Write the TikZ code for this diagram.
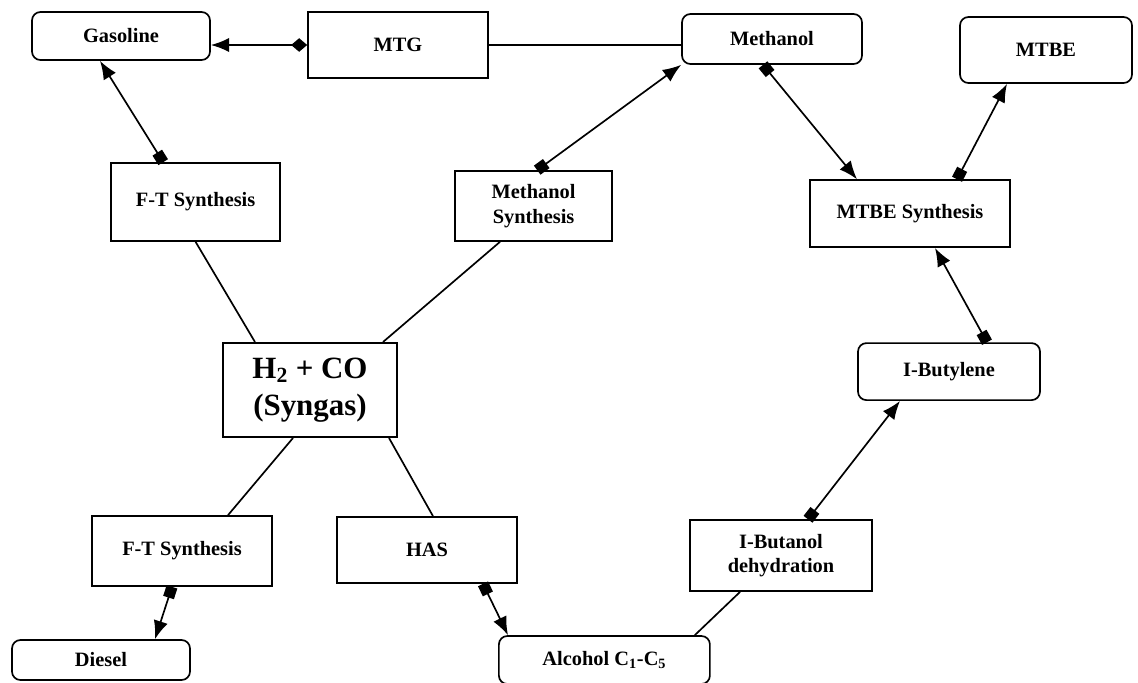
\documentclass[tikz,border=0pt]{standalone}
\usepackage{fontspec}
\setmainfont{Liberation Serif}
\usepackage{tikz}
\usetikzlibrary{arrows.meta, positioning, calc}

\begin{document}
\begin{tikzpicture}[
    >={Latex[length=4.6mm, width=3.6mm]},
    procbox/.style={draw, line width=1.2pt, inner sep=2pt, font=\fontsize{14.5}{17.5}\selectfont\bfseries, align=center},
    prodbox/.style={procbox, rounded corners=6pt},
    link/.style={line width=1.2pt},
    sq/.style={{Square[length=2.8mm, width=2.8mm]}->},
]
    \useasboundingbox (0,0) rectangle (28.45,-17.05);

    % Top row
    \node[prodbox, minimum width=4.45cm, minimum height=1.2cm] (gasoline) at (3.025,-0.9) {Gasoline};
    \node[procbox, minimum width=4.5cm, minimum height=1.65cm] (mtg) at (9.95,-1.125) {MTG};
    \node[prodbox, minimum width=4.5cm, minimum height=1.25cm] (methanol) at (19.3,-0.975) {Methanol};
    \node[prodbox, minimum width=4.3cm, minimum height=1.65cm] (mtbe) at (26.15,-1.25) {MTBE};

    % Second row
    \node[procbox, minimum width=4.225cm, minimum height=1.95cm] (ftup) at (4.89,-5.05) {F-T Synthesis};
    \node[procbox, minimum width=3.925cm, minimum height=1.75cm] (methsyn) at (13.34,-5.15) {Methanol\\Synthesis};
    \node[procbox, minimum width=5cm, minimum height=1.675cm] (mtbesyn) at (22.75,-5.34) {MTBE Synthesis};

    % Syngas
    \node[procbox, line width=1.4pt, minimum width=4.35cm, minimum height=2.35cm, font=\fontsize{22}{26}\selectfont\bfseries] (syngas) at (7.75,-9.75) {H\textsubscript{2} + CO\\(Syngas)};
    \node[prodbox, minimum width=4.55cm, minimum height=1.425cm] (butylene) at (23.725,-9.29) {I-Butylene};

    % Lower rows
    \node[procbox, minimum width=4.5cm, minimum height=1.75cm] (ftdown) at (4.55,-13.775) {F-T Synthesis};
    \node[procbox, minimum width=4.5cm, minimum height=1.65cm] (has) at (10.675,-13.75) {HAS};
    \node[procbox, minimum width=4.55cm, minimum height=1.775cm] (butanol) at (19.525,-13.89) {I-Butanol\\dehydration};
    \node[prodbox, minimum width=4.45cm, minimum height=1.0cm] (diesel) at (2.525,-16.5) {Diesel};
    \node[prodbox, minimum width=5.275cm, minimum height=1.2cm] (alcohol) at (15.11,-16.5) {Alcohol C\textsubscript{1}-C\textsubscript{5}};

    % Syngas routes
    \draw[link] (ftup.south) -- ([xshift=-1.375cm]syngas.north);
    \draw[link] ([xshift=-0.84cm]methsyn.south) -- ([xshift=1.825cm]syngas.north);
    \draw[link] ([xshift=-0.425cm]syngas.south) -- ([xshift=1.15cm]ftdown.north);
    \draw[link] ([xshift=1.975cm]syngas.south) -- ([xshift=0.15cm]has.north);

    % Products
    \draw[link, {Diamond[length=4mm, width=3.4mm]}->] (mtg.west) -- (gasoline.east |- mtg.west);
    \draw[link] (mtg.east) -- (methanol.west |- mtg.east);
    \draw[link, sq] ([xshift=-0.81cm]ftup.north) -- ([xshift=-0.525cm]gasoline.south);
    \draw[link, sq] ([xshift=0.09cm]methsyn.north) -- (methanol.south west);
    \draw[link, sq] ([xshift=-0.225cm]methanol.south) -- ([xshift=-1.325cm]mtbesyn.north);
    \draw[link, sq] ([xshift=1.175cm]mtbesyn.north) -- ([xshift=-0.975cm]mtbe.south);
    \draw[link, sq] ([xshift=0.95cm]butylene.north) -- ([xshift=0.625cm]mtbesyn.south);
    \draw[link, sq] ([xshift=0.675cm]butanol.north) -- ([xshift=-1.225cm]butylene.south);
    \draw[link] ([xshift=-1.025cm]butanol.south) -- ([xshift=2.26cm]alcohol.north);
    \draw[link, sq] ([xshift=1.4cm]has.south) -- ([xshift=-2.41cm]alcohol.north);
    \draw[link, sq] ([xshift=-0.25cm]ftdown.south) -- ([xshift=1.35cm]diesel.north);
\end{tikzpicture}
\end{document}
